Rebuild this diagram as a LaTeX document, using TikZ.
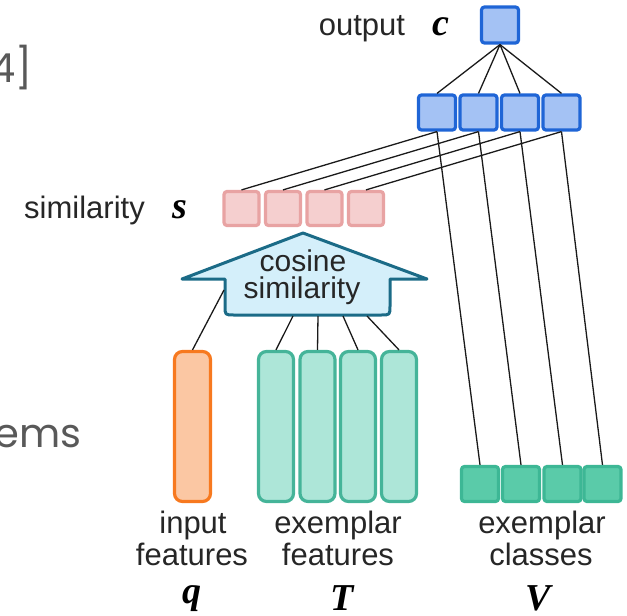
\documentclass[tikz,border=0pt]{standalone}
\usepackage{fontspec}
\setmainfont{Liberation Sans}
\newfontfamily\varfont{Liberation Serif}
\newfontfamily\slidefont{Poppins}
\definecolor{outline}{HTML}{1F65D6}
\definecolor{outfill}{HTML}{A4C2F4}
\definecolor{simline}{HTML}{E8A3A3}
\definecolor{simfill}{HTML}{F5CFCF}
\definecolor{cosline}{HTML}{1B6B87}
\definecolor{cosfill}{HTML}{D4EFFA}
\definecolor{qline}{HTML}{F7791F}
\definecolor{qfill}{HTML}{FBC7A3}
\definecolor{tline}{HTML}{45B499}
\definecolor{tfill}{HTML}{ADE6D8}
\definecolor{vline}{HTML}{3DB795}
\definecolor{vfill}{HTML}{5ACBA9}
\definecolor{wire}{HTML}{1A1A1A}
\definecolor{slidegray}{HTML}{595959}
\begin{document}
\begin{tikzpicture}[x=1pt, y=-1pt,
  unit/.style={draw, line width=3.2pt, rounded corners=3pt, inner sep=0pt, minimum width=#1},
  bluebox/.style={unit=37pt, minimum height=36pt, draw=outline, fill=outfill},
  simbox/.style={unit=35pt, minimum height=34pt, draw=simline, fill=simfill},
  qcol/.style={unit=36pt, minimum height=150pt, draw=qline, fill=qfill, rounded corners=8pt},
  tcol/.style={unit=35pt, minimum height=150pt, draw=tline, fill=tfill, rounded corners=8pt},
  vbox/.style={unit=37pt, minimum height=35pt, draw=vline, fill=vfill},
  wireline/.style={draw=wire, line width=1.3pt},
  lbl/.style={anchor=base, inner sep=0pt, font=\fontsize{31}{32}\selectfont, text=black!85},
  coslbl/.style={lbl, font=\fontsize{30}{30}\selectfont},
  var/.style={anchor=base, inner sep=0pt, font=\fontsize{38}{40}\selectfont\varfont\bfseries\itshape},
  slide/.style={anchor=base east, inner sep=0pt, font=\fontsize{40}{44}\selectfont\slidefont, text=slidegray}]
\useasboundingbox (0,0) rectangle (627,616);

% fragments of the surrounding slide text
\node[slide] (frag1) at (33,82) {4]};
\node[slide] (frag2) at (82,447) {ems};

% output unit and hidden layer
\node[bluebox] (c) at (500,25) {};
\foreach \i/\x in {1/437,2/478.5,3/520,4/561.5}
  \node[bluebox, minimum height=35pt] (h\i) at (\x,112.5) {};

% similarity units
\foreach \i/\x in {1/241.5,2/283,3/324.5,4/366}
  \node[simbox] (s\i) at (\x,208.5) {};

% input features, exemplar features, exemplar classes
\node[qcol] (q) at (192.5,426.5) {};
\foreach \i/\x in {1/276,2/317.5,3/358,4/399}
  \node[tcol] (t\i) at (\x,426.5) {};
\foreach \i/\x in {1/480,2/521,3/562.5,4/602.5}
  \node[vbox] (v\i) at (\x,484) {};

% cosine similarity arrow
\draw[line width=3pt, draw=cosline, fill=cosfill, line join=round]
  (225,279) -- (182,279) -- (303,233) -- (427,279) -- (390,279) -- (390,306)
  .. controls (390,315) .. (381,315) -- (234,315)
  .. controls (225,315) .. (225,306) -- cycle;
\coordinate (aq) at (224,290);
\coordinate (a1) at (293,316);
\coordinate (a2) at (318,316);
\coordinate (a3) at (343,316);
\coordinate (a4) at (367,316);
\node[coslbl] (cos1) at (303,271) {cosine};
\node[coslbl] (cos2) at (302,298) {similarity};

% connections
\foreach \i in {1,...,4} {
  \draw[wireline] (c.south) -- (h\i.north);
  \draw[wireline] (h\i.south) -- (s\i.north);
  \draw[wireline] (h\i.south) -- (v\i.north);
  \draw[wireline] (a\i) -- (t\i.north);
}
\draw[wireline] (aq) -- (q.north);

% labels
\node[lbl] (lout) at (362,35) {output};
\node[var] (lc) at (441,35) {c};
\node[lbl] (lsim) at (84.5,218) {similarity};
\node[var] (ls) at (180,218) {s};
\node[lbl] (lq1) at (193,533) {input};
\node[lbl] (lq2) at (192,565) {features};
\node[lbl] (lt1) at (338,533) {exemplar};
\node[lbl] (lt2) at (338,565) {features};
\node[lbl] (lv1) at (542,533) {exemplar};
\node[lbl] (lv2) at (541,565) {classes};
\node[var] (lq) at (192,603) {q};
\node[var] (lT) at (342,610) {T};
\node[var] (lV) at (538,610) {V};
\end{tikzpicture}
\end{document}
